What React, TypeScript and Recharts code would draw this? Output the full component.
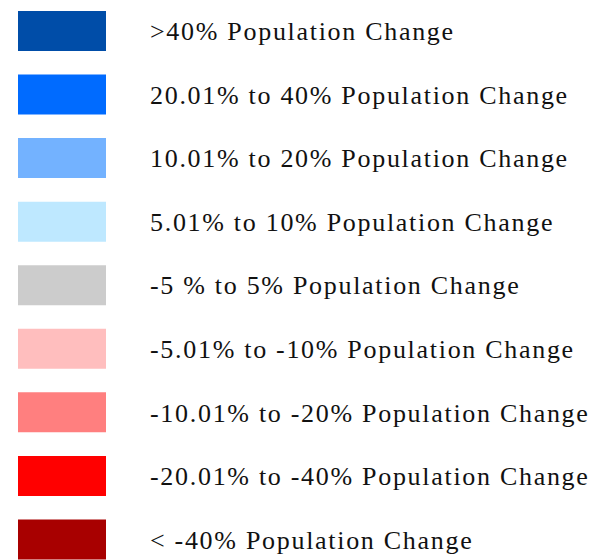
import { BarChart, Bar, XAxis, YAxis, Cell, LabelList } from 'recharts';

// legend classes, top to bottom
const classKeys = ['p40', 'p20', 'p10', 'p5', 'z', 'n5', 'n10', 'n20', 'n40'];
const classLabels = [
  '>40% Population Change',
  '20.01% to 40% Population Change',
  '10.01% to 20% Population Change',
  '5.01% to 10% Population Change',
  '-5 % to 5% Population Change',
  '-5.01% to -10% Population Change',
  '-10.01% to -20% Population Change',
  '-20.01% to -40% Population Change',
  '< -40% Population Change',
];
const classColors = [
  '#004DA8',
  '#006BFF',
  '#73B2FF',
  '#BEE8FF',
  '#CCCCCC',
  '#FFBEBE',
  '#FF7F7F',
  '#FF0000',
  '#A80000',
];
// every swatch is a full-width bar
const swatchValues = [1, 1, 1, 1, 1, 1, 1, 1, 1];

const data = classKeys.map((key, i) => ({
  key,
  label: classLabels[i],
  value: swatchValues[i],
}));

export default function App() {
  return (
    <div style={{ width: 597, height: 560, overflow: 'hidden', position: 'fixed', left: 0, top: 0, background: '#fff' }}>
      <BarChart
        width={597}
        height={572}
        data={data}
        layout="vertical"
        margin={{ top: -1, right: 491, bottom: 1, left: 18 }}
        barCategoryGap={0}
      >
        <XAxis type="number" domain={[0, 1]} hide />
        <YAxis type="category" dataKey="key" hide />
        <Bar dataKey="value" barSize={40} isAnimationActive={false}>
          {data.map((d, i) => (
            <Cell key={d.key} fill={classColors[i]} />
          ))}
          <LabelList
            dataKey="label"
            position="right"
            offset={44}
            fill="#111"
            style={{ fontFamily: '"Liberation Serif", serif', fontSize: 26, letterSpacing: 1.7 }}
          />
        </Bar>
      </BarChart>
    </div>
  );
}
